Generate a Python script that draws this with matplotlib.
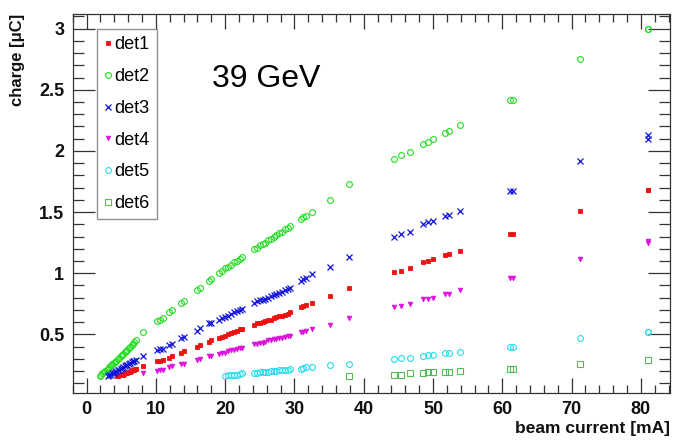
import numpy as np
import matplotlib
matplotlib.use("Agg")
import matplotlib.pyplot as plt
from matplotlib.ticker import MultipleLocator, FixedLocator

plt.rcParams['font.family'] = ['Liberation Sans', 'DejaVu Sans']

# ---------------- data ----------------
current = [8.1, 10.2, 10.6, 11.0, 11.9, 12.3, 13.6, 14.0, 15.9, 16.3, 17.7, 18.0,
           19.1, 19.6, 20.0, 20.4, 20.9, 21.3, 21.7, 22.1, 22.5,
           24.2, 24.6, 25.0, 25.4, 25.8, 26.2, 26.6, 27.0, 27.4, 27.8, 28.2, 28.6, 29.0, 29.4,
           30.9, 31.3, 31.7, 32.5, 35.2, 37.9, 44.3, 45.4, 46.7, 48.6, 49.3, 50.0,
           51.8, 52.3, 53.9, 61.1, 61.6, 71.2, 81.0, 81.0]

det1_charge = [0.24, 0.28, 0.28, 0.29, 0.31, 0.32, 0.35, 0.36, 0.40, 0.41, 0.44, 0.45,
               0.47, 0.48, 0.49, 0.50, 0.51, 0.52, 0.53, 0.54, 0.54,
               0.58, 0.59, 0.59, 0.60, 0.61, 0.62, 0.62, 0.63, 0.64, 0.65, 0.65, 0.66, 0.67, 0.68,
               0.72, 0.73, 0.74, 0.76, 0.81, 0.88, 1.01, 1.02, 1.04, 1.09, 1.10, 1.12,
               1.15, 1.16, 1.18, 1.32, 1.32, 1.51, 1.68, 1.68]
det2_charge = [0.52, 0.61, 0.62, 0.63, 0.68, 0.70, 0.76, 0.77, 0.86, 0.88, 0.94, 0.95,
               1.00, 1.02, 1.04, 1.05, 1.07, 1.09, 1.10, 1.12, 1.13,
               1.20, 1.21, 1.23, 1.24, 1.25, 1.27, 1.28, 1.30, 1.31, 1.33, 1.34, 1.36, 1.37, 1.39,
               1.44, 1.46, 1.47, 1.50, 1.60, 1.73, 1.93, 1.97, 1.99, 2.06, 2.07, 2.10,
               2.15, 2.16, 2.21, 2.42, 2.42, 2.75, 3.00, 3.00]
det3_charge = [0.32, 0.37, 0.38, 0.38, 0.41, 0.42, 0.47, 0.48, 0.53, 0.55, 0.59, 0.59,
               0.62, 0.63, 0.64, 0.65, 0.67, 0.68, 0.69, 0.70, 0.71,
               0.76, 0.77, 0.78, 0.78, 0.79, 0.80, 0.81, 0.82, 0.83, 0.84, 0.85, 0.86, 0.87, 0.88,
               0.94, 0.95, 0.96, 0.99, 1.05, 1.13, 1.30, 1.32, 1.34, 1.40, 1.42, 1.43,
               1.47, 1.48, 1.51, 1.67, 1.67, 1.92, 2.13, 2.10]
det4_charge = [0.18, 0.20, 0.21, 0.21, 0.23, 0.24, 0.26, 0.26, 0.29, 0.30, 0.32, 0.32,
               0.34, 0.35, 0.35, 0.36, 0.37, 0.37, 0.38, 0.39, 0.39,
               0.42, 0.42, 0.43, 0.43, 0.44, 0.45, 0.45, 0.46, 0.46, 0.47, 0.47, 0.48, 0.49, 0.49,
               0.52, 0.52, 0.53, 0.54, 0.58, 0.63, 0.72, 0.73, 0.75, 0.79, 0.79, 0.80,
               0.83, 0.83, 0.86, 0.96, 0.96, 1.12, 1.26, 1.25]

det5_current = [20.0, 20.4, 20.9, 21.3, 21.7, 22.1, 22.5,
                24.2, 24.6, 25.0, 25.4, 25.8, 26.2, 26.6, 27.0, 27.4, 27.8, 28.2, 28.6, 29.0, 29.4,
                30.9, 31.3, 31.7, 32.5, 35.2, 37.9, 44.3, 45.4, 46.7, 48.6, 49.3, 50.0,
                51.8, 52.3, 53.9, 61.1, 61.6, 71.2, 81.0, 81.0]
det5_charge = [0.16, 0.165, 0.17, 0.17, 0.17, 0.175, 0.18,
               0.18, 0.185, 0.19, 0.19, 0.19, 0.195, 0.20, 0.20, 0.20, 0.205, 0.21, 0.21, 0.21, 0.215,
               0.22, 0.225, 0.23, 0.23, 0.25, 0.26, 0.30, 0.31, 0.31, 0.32, 0.33, 0.33,
               0.35, 0.35, 0.355, 0.40, 0.40, 0.47, 0.52, 0.52]

det6_current = [37.9, 44.3, 45.4, 46.7, 48.6, 49.3, 50.0, 51.8, 52.3, 53.9, 61.1, 61.6, 71.2, 81.0]
det6_charge = [0.16, 0.17, 0.17, 0.18, 0.185, 0.19, 0.19, 0.195, 0.195, 0.20, 0.22, 0.22, 0.26, 0.29]

# low-current dense runs
det2_low_current = [1.9, 2.1, 2.3, 2.5, 2.7, 2.9, 3.1, 3.3, 3.5, 3.7, 3.9, 4.1, 4.3, 4.5,
                    4.7, 4.9, 5.1, 5.3, 5.5, 5.7, 5.9, 6.1, 6.3, 6.5, 6.7, 6.9, 7.1]
det2_low_charge = [0.16, 0.17, 0.18, 0.19, 0.20, 0.21, 0.22, 0.235, 0.245, 0.255, 0.265, 0.275,
                   0.285, 0.30, 0.31, 0.32, 0.33, 0.34, 0.355, 0.365, 0.375, 0.385, 0.40, 0.41,
                   0.42, 0.44, 0.45]
det3_low_current = [3.1, 3.3, 3.5, 3.7, 3.9, 4.1, 4.3, 4.5, 4.7, 4.9, 5.1, 5.3, 5.5, 5.7,
                    5.9, 6.1, 6.3, 6.5, 6.7, 6.9, 7.1]
det3_low_charge = [0.16, 0.165, 0.17, 0.18, 0.185, 0.19, 0.20, 0.205, 0.21, 0.22, 0.225, 0.23,
                   0.24, 0.245, 0.25, 0.26, 0.265, 0.27, 0.28, 0.285, 0.29]
det1_low_current = [4.4, 4.6, 4.8, 5.0, 5.2, 5.4, 5.6, 5.8, 6.0, 6.2, 6.4, 6.6, 6.8, 7.0, 7.2]
det1_low_charge = [0.155, 0.16, 0.165, 0.165, 0.17, 0.175, 0.18, 0.185, 0.19, 0.195, 0.20,
                   0.205, 0.21, 0.215, 0.22]

labels = ['det1', 'det2', 'det3', 'det4', 'det5', 'det6']
x_major_ticks = [0, 10, 20, 30, 40, 50, 60, 70, 80]
y_major_ticks = [0.5, 1, 1.5, 2, 2.5, 3]
y_tick_labels = ['0.5', '1', '1.5', '2', '2.5', '3']

# ---------------- figure ----------------
W, H = 679, 442
fig = plt.figure(figsize=(W / 100, H / 100), dpi=100)
ax = fig.add_axes([72.7 / W, 1 - 393 / H, (670 - 72.7) / W, (393 - 14) / H])

series = [
    (det1_low_current + current, det1_low_charge + det1_charge,
     dict(marker='s', color='#ee1111', ms=3.0, mfc='#ee1111', mew=0.6)),
    (det2_low_current + current, det2_low_charge + det2_charge,
     dict(marker='o', color='#22dd22', ms=4.2, mfc='none', mew=0.8)),
    (det3_low_current + current, det3_low_charge + det3_charge,
     dict(marker='x', color='#1111dd', ms=3.8, mew=0.9)),
    (current, det4_charge,
     dict(marker='v', color='#dd11dd', ms=3.4, mfc='#dd11dd', mew=0.5)),
    (det5_current, det5_charge,
     dict(marker='o', color='#22ddee', ms=4.2, mfc='none', mew=0.8)),
    (det6_current, det6_charge,
     dict(marker='s', color='#55bb55', ms=4.0, mfc='none', mew=0.8)),
]

for (xs, ys, st), lab in zip(series, labels):
    ax.plot(xs, ys, linestyle='none', label=lab, **st)

ax.set_xlim(-2.0, 84.2)
ax.set_ylim(0.02, 3.12)

ax.xaxis.set_major_locator(FixedLocator(x_major_ticks))
ax.xaxis.set_minor_locator(MultipleLocator(2))
ax.yaxis.set_major_locator(FixedLocator(y_major_ticks))
ax.set_yticklabels(y_tick_labels)
ax.yaxis.set_minor_locator(MultipleLocator(0.1))

tick_col = '#333333'
ax.tick_params(axis='both', which='both', direction='in', colors=tick_col,
               top=True, right=True, labelcolor='#111111', width=0.9)
ax.tick_params(axis='x', which='major', length=11, labelsize=13, pad=6)
ax.tick_params(axis='x', which='minor', length=5.5)
ax.tick_params(axis='y', which='major', length=16, labelsize=13, pad=6)
ax.tick_params(axis='y', which='minor', length=8)
for lbl in ax.get_xticklabels() + ax.get_yticklabels():
    lbl.set_fontweight('bold')
for sp in ax.spines.values():
    sp.set_color(tick_col)
    sp.set_linewidth(0.9)

ax.set_xlabel('beam current [mA]', fontsize=12.5, fontweight='bold', color='#111111',
              ha='right', va='top')
ax.xaxis.set_label_coords(1.0, -0.075)
ax.set_ylabel('charge [\u03bcC]', fontsize=12, fontweight='bold', color='#111111',
              ha='right', va='bottom')
ax.yaxis.set_label_coords(-0.08, 1.0)

fig.text(212 / W, 1 - 87 / H, '39 GeV', fontsize=23, color='black', ha='left',
         va='baseline')

leg = ax.legend(loc='upper left', bbox_to_anchor=(97 / W, 1 - 29 / H),
                bbox_transform=fig.transFigure, borderaxespad=0, fontsize=13,
                handlelength=0.4, handletextpad=0.15, labelspacing=0.82,
                borderpad=0.4, fancybox=False, frameon=True, numpoints=1)
leg.get_frame().set_edgecolor('#777777')
leg.get_frame().set_linewidth(1.0)

fig.savefig('out.png', dpi=100, facecolor='white')
